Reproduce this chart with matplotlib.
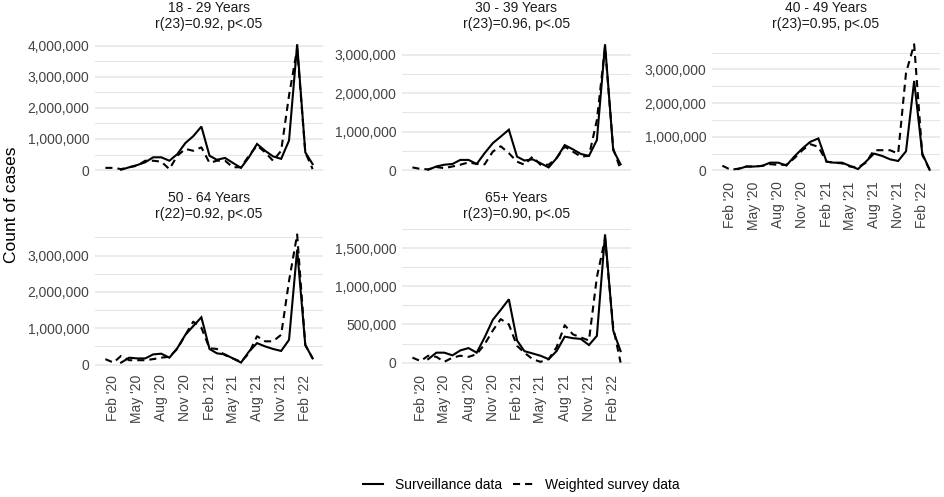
import numpy as np
import pandas as pd
import matplotlib
matplotlib.use("Agg")
import matplotlib.pyplot as plt
import matplotlib.dates as mdates
from matplotlib.ticker import MultipleLocator, FuncFormatter
from matplotlib.lines import Line2D

plt.rcParams['font.family'] = ['Liberation Sans', 'DejaVu Sans']

# monthly data, survey Jan 2020 - Mar 2022, surveillance Mar 2020 - Mar 2022
survey_months = pd.date_range('2020-01-01', '2022-03-01', freq='MS')
surv_months = pd.date_range('2020-03-01', '2022-03-01', freq='MS')

titles = ['18 - 29 Years\nr(23)=0.92, p<.05',
          '30 - 39 Years\nr(23)=0.96, p<.05',
          '40 - 49 Years\nr(23)=0.95, p<.05',
          '50 - 64 Years\nr(22)=0.92, p<.05',
          '65+ Years\nr(23)=0.90, p<.05']

surv_18 = [10e3, 90e3, 160e3, 250e3, 410e3, 410e3, 300e3, 510e3, 870e3, 1.09e6, 1.4e6,
           460e3, 330e3, 390e3, 230e3, 70e3, 410e3, 840e3, 620e3, 440e3, 360e3,
           950e3, 4.05e6, 570e3, 190e3]
survey_18 = [70e3, 70e3, 30e3, 90e3, 140e3, 300e3, 300e3, 270e3, 30e3, 460e3, 680e3,
             620e3, 730e3, 230e3, 300e3, 300e3, 90e3, 90e3, 460e3, 790e3, 570e3,
             300e3, 620e3, 2.4e6, 3.9e6, 570e3, 30e3]

surv_30 = [10e3, 95e3, 140e3, 160e3, 265e3, 265e3, 160e3, 440e3, 700e3, 870e3, 1.05e6,
           350e3, 250e3, 280e3, 180e3, 70e3, 310e3, 650e3, 540e3, 420e3, 370e3,
           780e3, 3.27e6, 520e3, 150e3]
survey_30 = [70e3, 30e3, 20e3, 80e3, 50e3, 95e3, 140e3, 200e3, 160e3, 150e3, 480e3,
             620e3, 440e3, 220e3, 140e3, 350e3, 140e3, 140e3, 310e3, 610e3, 480e3,
             350e3, 370e3, 1.3e6, 3.2e6, 560e3, 10e3]

surv_40 = [40e3, 115e3, 115e3, 135e3, 230e3, 230e3, 145e3, 410e3, 650e3, 850e3, 950e3,
           260e3, 230e3, 230e3, 135e3, 40e3, 260e3, 500e3, 430e3, 330e3, 280e3,
           570e3, 2.66e6, 500e3, 20e3]
survey_40 = [140e3, 20e3, 50e3, 115e3, 115e3, 135e3, 185e3, 165e3, 165e3, 360e3, 600e3,
             780e3, 700e3, 260e3, 230e3, 210e3, 115e3, 90e3, 230e3, 600e3, 600e3,
             600e3, 500e3, 2.9e6, 3.75e6, 460e3, 20e3]

surv_50 = [55e3, 190e3, 170e3, 170e3, 280e3, 300e3, 190e3, 450e3, 820e3, 1.06e6, 1.3e6,
           430e3, 310e3, 280e3, 170e3, 55e3, 355e3, 590e3, 500e3, 430e3, 375e3,
           680e3, 3.16e6, 540e3, 170e3]
survey_50 = [150e3, 55e3, 240e3, 120e3, 120e3, 120e3, 150e3, 190e3, 215e3, 430e3, 820e3,
             1.18e6, 1.01e6, 450e3, 430e3, 260e3, 170e3, 75e3, 310e3, 780e3, 640e3,
             640e3, 820e3, 2.3e6, 3.58e6, 540e3, 170e3]

surv_65 = [45e3, 130e3, 130e3, 95e3, 160e3, 190e3, 130e3, 330e3, 560e3, 690e3, 830e3,
           290e3, 150e3, 120e3, 90e3, 45e3, 150e3, 340e3, 320e3, 310e3, 230e3,
           350e3, 1.68e6, 420e3, 150e3]
survey_65 = [65e3, 20e3, 90e3, 75e3, 10e3, 65e3, 90e3, 75e3, 110e3, 240e3, 420e3,
             570e3, 500e3, 220e3, 130e3, 45e3, 10e3, 45e3, 200e3, 490e3, 370e3,
             330e3, 290e3, 1.12e6, 1.62e6, 460e3, 0]

surv_all = [surv_18, surv_30, surv_40, surv_50, surv_65]
survey_all = [survey_18, survey_30, survey_40, survey_50, survey_65]
y_steps = [1e6, 1e6, 1e6, 1e6, 5e5]

W, H = 945, 497
fig = plt.figure(figsize=(W / 100, H / 100), dpi=100)

# panel boxes in pixels: left, top, right, bottom
boxes = [(95, 38, 323, 176), (402, 38, 631, 176), (712, 38, 940, 176),
         (95, 228, 323, 369), (402, 228, 631, 369)]
show_x = [False, False, True, True, True]

grid_col = '#e6e6e6'
txt_col = '#444444'
dash = (0, (3.4, 2.4))

for k in range(5):
    l, t, r, b = boxes[k]
    ax = fig.add_axes([l / W, 1 - b / H, (r - l) / W, (b - t) / H])
    ax.plot(surv_months, surv_all[k], color='black', lw=1.5, solid_joinstyle='miter')
    ax.plot(survey_months, survey_all[k], color='black', lw=1.5, linestyle=dash)
    ax.margins(x=0.05, y=0.05)
    ax.yaxis.set_major_locator(MultipleLocator(y_steps[k]))
    ax.yaxis.set_minor_locator(MultipleLocator(y_steps[k] / 2))
    ax.yaxis.set_major_formatter(FuncFormatter(lambda v, p: f'{int(round(v)):,}'))
    ax.grid(axis='y', which='major', color=grid_col, lw=1.1)
    ax.grid(axis='y', which='minor', color=grid_col, lw=0.8)
    ax.set_axisbelow(True)
    for s in ax.spines.values():
        s.set_visible(False)
    ax.tick_params(axis='both', which='both', length=0, labelsize=10, colors=txt_col, pad=4)
    ax.xaxis.set_major_locator(mdates.MonthLocator(bymonth=[2, 5, 8, 11]))
    ax.xaxis.set_major_formatter(mdates.DateFormatter("%b '%y"))
    if show_x[k]:
        for lab in ax.get_xticklabels():
            lab.set_rotation(90)
    else:
        ax.tick_params(axis='x', labelbottom=False)
    ax.set_title(titles[k], fontsize=10, color='#1a1a1a', pad=7, linespacing=1.2)

fig.text(12 / W, 1 - 205 / H, 'Count of cases', rotation=90, ha='center', va='center',
         fontsize=12.5, color='black')

handles = [Line2D([], [], color='black', lw=1.5),
           Line2D([], [], color='black', lw=1.5, linestyle=dash)]
fig.legend(handles, ['Surveillance data', 'Weighted survey data'], loc='center',
           bbox_to_anchor=(521 / W, 1 - 485 / H), ncol=2, frameon=False,
           fontsize=10, handlelength=1.45, columnspacing=0.8, handletextpad=0.85)

fig.savefig('out.png', dpi=100)
